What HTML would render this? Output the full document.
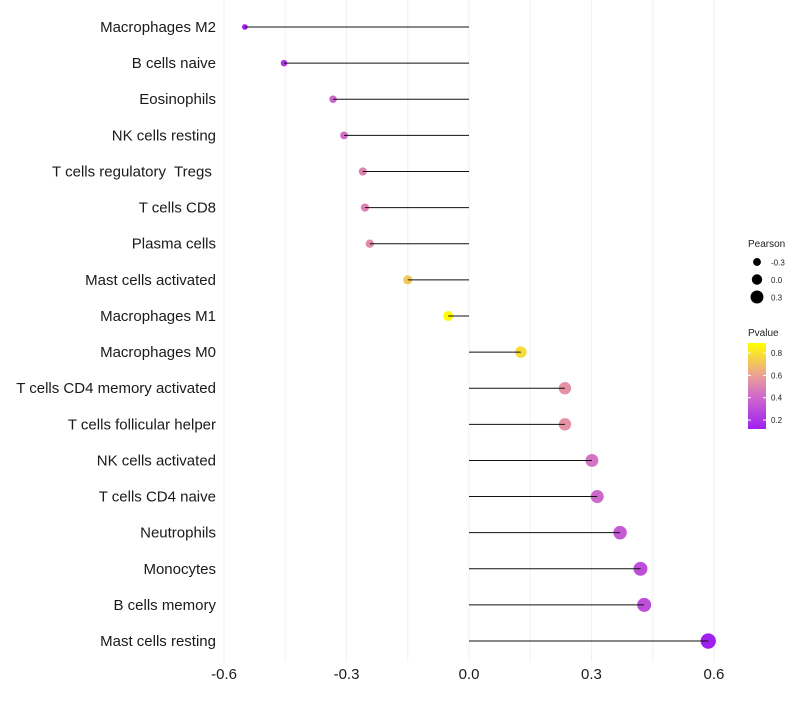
<!DOCTYPE html>
<html><head><meta charset="utf-8"><style>
body{margin:0;background:#fff;font-family:"Liberation Sans",sans-serif}
text{white-space:pre}
</style></head><body>
<svg id="c" width="800" height="700" xmlns="http://www.w3.org/2000/svg" xml:space="preserve"></svg>
<script>
const categories=["Macrophages M2","B cells naive","Eosinophils","NK cells resting","T cells regulatory  Tregs ","T cells CD8","Plasma cells","Mast cells activated","Macrophages M1","Macrophages M0","T cells CD4 memory activated","T cells follicular helper","NK cells activated","T cells CD4 naive","Neutrophils","Monocytes","B cells memory","Mast cells resting"];
const pearson=[-0.549,-0.453,-0.333,-0.306,-0.26,-0.255,-0.243,-0.15,-0.051,0.127,0.235,0.235,0.301,0.314,0.37,0.42,0.429,0.586];
const pvalue=[0.13,0.2,0.4,0.42,0.5,0.5,0.53,0.72,0.88,0.78,0.55,0.55,0.45,0.4,0.35,0.3,0.3,0.12];
const xTicks=[-0.6,-0.3,0,0.3,0.6];
const xTickLabels=["-0.6","-0.3","0.0","0.3","0.6"];
const sizeLegend=[-0.3,0,0.3];
const colorLegend=[0.2,0.4,0.6,0.8];
const NS="http://www.w3.org/2000/svg",svg=document.getElementById('c');
function el(t,a,p){const e=document.createElementNS(NS,t);for(const k in a)e.setAttribute(k,a[k]);(p||svg).appendChild(e);return e;}
const x=v=>469+v*408.3;
const y=i=>27+i*36.12;
const r=v=>Math.max(2,5.2+4.2*v);
function col(p){const t=Math.max(0,Math.min(1,(p-0.12)/(0.89-0.12)));
 const stops=[[160,32,240],[210,110,200],[235,160,150],[255,255,0]],ts=[0,0.4,0.62,1];
 let k=0;while(k<2&&t>ts[k+1])k++;const f=(t-ts[k])/(ts[k+1]-ts[k]);
 return 'rgb('+stops[k].map((c,j)=>Math.round(c+(stops[k+1][j]-c)*f)).join(',')+')';}
for(let g=-0.6;g<=0.61;g+=0.15){const l=el('line',{x1:x(g),x2:x(g),y1:0,y2:662,stroke:'#f0f0f0','stroke-width':1});
}
xTicks.forEach((t,i)=>{const tx=el('text',{x:x(t),y:679,'text-anchor':'middle','font-size':15,fill:'#1a1a1a'});tx.textContent=xTickLabels[i];
});
categories.forEach((c,i)=>{
 const lb=el('text',{x:216,y:y(i)+5,'text-anchor':'end','font-size':15,fill:'#1a1a1a'});lb.textContent=c;
 
 const d=el('circle',{cx:x(pearson[i]),cy:y(i),r:r(pearson[i]),fill:col(pvalue[i])});
 
 const ln=el('line',{x1:x(0),x2:x(pearson[i]),y1:y(i),y2:y(i),stroke:'#111','stroke-width':1});
 
});
const t1=el('text',{x:748,y:247,'font-size':10,fill:'#222'});t1.textContent='Pearson';

sizeLegend.forEach((v,i)=>{const yy=262+i*17.5;
 const c=el('circle',{cx:757,cy:yy,r:r(v),fill:'#000'});
 const t=el('text',{x:771,y:yy+3.5,'font-size':8,fill:'#222'});t.textContent=v.toFixed(1);
 });
const t2=el('text',{x:748,y:336,'font-size':10,fill:'#222'});t2.textContent='Pvalue';

const defs=el('defs',{});const gr=el('linearGradient',{id:'g',x1:0,y1:1,x2:0,y2:0},defs);
for(let k=0;k<=10;k++){el('stop',{offset:k/10,'stop-color':col(0.12+k/10*0.77)},gr);}
const cb=el('rect',{x:748,y:343,width:18,height:86,fill:'url(#g)'});

const cy=p=>429-(p-0.12)/(0.89-0.12)*86;
colorLegend.forEach(v=>{el('line',{x1:748,x2:751,y1:cy(v),y2:cy(v),stroke:'#fff'});el('line',{x1:763,x2:766,y1:cy(v),y2:cy(v),stroke:'#fff'});
 const t=el('text',{x:771,y:cy(v)+3,'font-size':8,fill:'#222'});t.textContent=v.toFixed(1);
 });
</script>
</body></html>
